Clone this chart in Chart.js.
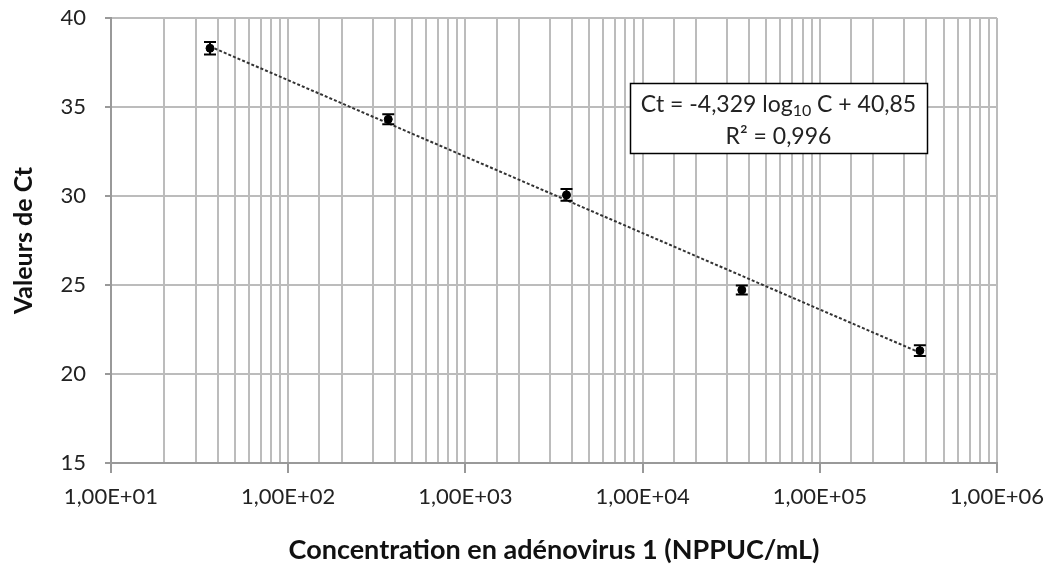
<!DOCTYPE html>
<html>
<head>
<meta charset="utf-8">
<script src="https://cdn.jsdelivr.net/npm/chart.js@4.4.1/dist/chart.umd.min.js"></script>
<style>
  html, body { margin: 0; padding: 0; background: #ffffff; }
  #wrap { width: 1052px; height: 567px; position: relative; }
</style>
</head>
<body>
<div id="wrap"><canvas id="c" width="1052" height="567"></canvas></div>
<script>
// ---- data ----
const concentrations = [36.2, 367, 3720, 36300, 367000];      // NPPUC/mL
const ctValues       = [38.30, 34.31, 30.06, 24.72, 21.31];
const ctErrors       = [0.35, 0.28, 0.33, 0.25, 0.30];
const trendX         = [36.2, 367000];
const trendY         = [38.40, 21.20];
const xTickLabels    = ['1,00E+01', '1,00E+02', '1,00E+03', '1,00E+04', '1,00E+05', '1,00E+06'];
const yTicks         = [15, 20, 25, 30, 35, 40];
const equationText   = ['Ct = -4,329 log', '10', ' C + 40,85'];
const r2Text         = 'R² = 0,996';
const xTitle         = 'Concentration en adénovirus 1 (NPPUC/mL)';
const yTitle         = 'Valeurs de Ct';

const FONT = 'Lato, "Open Sans", sans-serif';
const GRID = '#bcbcbc';

function isDecade(v) {
  const l = Math.log10(v);
  return Math.abs(l - Math.round(l)) < 1e-9;
}

const errorBarPlugin = {
  id: 'errorBars',
  afterDatasetsDraw(chart) {
    const xs = chart.scales.x, ys = chart.scales.y;
    const ctx = chart.ctx;
    ctx.save();
    ctx.strokeStyle = '#000';
    ctx.lineWidth = 2;
    concentrations.forEach((c, i) => {
      const px = xs.getPixelForValue(c);
      const top = ys.getPixelForValue(ctValues[i] + ctErrors[i]);
      const bot = ys.getPixelForValue(ctValues[i] - ctErrors[i]);
      ctx.beginPath();
      ctx.moveTo(px, top); ctx.lineTo(px, bot);
      ctx.moveTo(px - 6, top); ctx.lineTo(px + 6, top);
      ctx.moveTo(px - 6, bot); ctx.lineTo(px + 6, bot);
      ctx.stroke();
    });
    ctx.restore();
  }
};

const equationPlugin = {
  id: 'equationBox',
  afterDraw(chart) {
    const ctx = chart.ctx;
    const a = chart.chartArea;
    const bx = a.left + 519, by = a.top + 65, bw = 297, bh = 70;
    ctx.save();
    ctx.fillStyle = '#fff';
    ctx.fillRect(bx, by, bw, bh);
    ctx.strokeStyle = '#000';
    ctx.lineWidth = 1.5;
    ctx.strokeRect(bx + 0.5, by + 0.5, bw, bh);
    ctx.fillStyle = '#222';
    ctx.textBaseline = 'alphabetic';
    const big = '23px ' + FONT, small = '16px ' + FONT;
    ctx.font = big; const w0 = ctx.measureText(equationText[0]).width;
    const w2 = ctx.measureText(equationText[2]).width;
    ctx.font = small; const w1 = ctx.measureText(equationText[1]).width;
    const total = w0 + w1 + w2;
    const cx = bx + bw / 2;
    let x = cx - total / 2;
    const base1 = by + 29;
    ctx.textAlign = 'left';
    ctx.font = big; ctx.fillText(equationText[0], x, base1); x += w0;
    ctx.font = small; ctx.fillText(equationText[1], x, base1 + 4); x += w1;
    ctx.font = big; ctx.fillText(equationText[2], x, base1);
    ctx.textAlign = 'center';
    ctx.fillText(r2Text, cx, by + 61);
    ctx.restore();
  }
};

new Chart(document.getElementById('c'), {
  data: {
    datasets: [
      {
        type: 'line',
        label: 'Tendance',
        data: trendX.map((x, i) => ({ x: x, y: trendY[i] })),
        borderColor: '#333333',
        borderWidth: 2,
        borderDash: [3, 2],
        pointRadius: 0,
        fill: false,
        order: 2
      },
      {
        type: 'scatter',
        label: 'Ct',
        data: concentrations.map((x, i) => ({ x: x, y: ctValues[i] })),
        backgroundColor: '#000',
        borderColor: '#000',
        pointRadius: 4,
        pointStyle: 'circle',
        order: 1
      }
    ]
  },
  options: {
    responsive: false,
    animation: false,
    devicePixelRatio: 1,
    layout: { padding: { top: 18, right: 55, left: 0, bottom: 0 } },
    plugins: { legend: { display: false }, tooltip: { enabled: false } },
    scales: {
      x: {
        type: 'logarithmic',
        position: 'bottom',
        min: 10,
        max: 1000000,
        afterFit(scale) { scale.height = 104; scale.paddingLeft = 0; scale.paddingRight = 0; },
        grid: {
          color: GRID,
          lineWidth: 2,
          drawTicks: true,
          tickLength: 10,
          tickColor: (ctx) => (ctx.tick && isDecade(ctx.tick.value)) ? '#999' : 'rgba(0,0,0,0)'
        },
        border: { display: true, color: '#999', width: 2 },
        ticks: {
          autoSkip: false,
          maxRotation: 0,
          padding: 11,
          color: '#222',
          font: { family: FONT, size: 22 },
          callback: (v) => isDecade(v) ? xTickLabels[Math.round(Math.log10(v)) - 1] : ''
        },
        title: {
          display: true,
          text: xTitle,
          color: '#111',
          font: { family: FONT, size: 27, weight: 'bold', lineHeight: 1.2 },
          padding: { top: 0, bottom: 1 }
        }
      },
      y: {
        type: 'linear',
        min: 15,
        max: 40,
        afterFit(scale) { scale.width = 111; scale.paddingTop = 0; scale.paddingBottom = 0; },
        afterBuildTicks(scale) { scale.ticks = yTicks.map(v => ({ value: v })); },
        grid: { color: GRID, lineWidth: 2, tickLength: 6, tickColor: '#999' },
        border: { display: true, color: '#999', width: 2 },
        ticks: {
          padding: 19,
          color: '#222',
          font: { family: FONT, size: 22 }
        },
        title: {
          display: true,
          text: yTitle,
          color: '#111',
          font: { family: FONT, size: 25, weight: 'bold', lineHeight: 1.2 },
          padding: { top: 9, bottom: 0 }
        }
      }
    }
  },
  plugins: [errorBarPlugin, equationPlugin]
});
</script>
</body>
</html>
